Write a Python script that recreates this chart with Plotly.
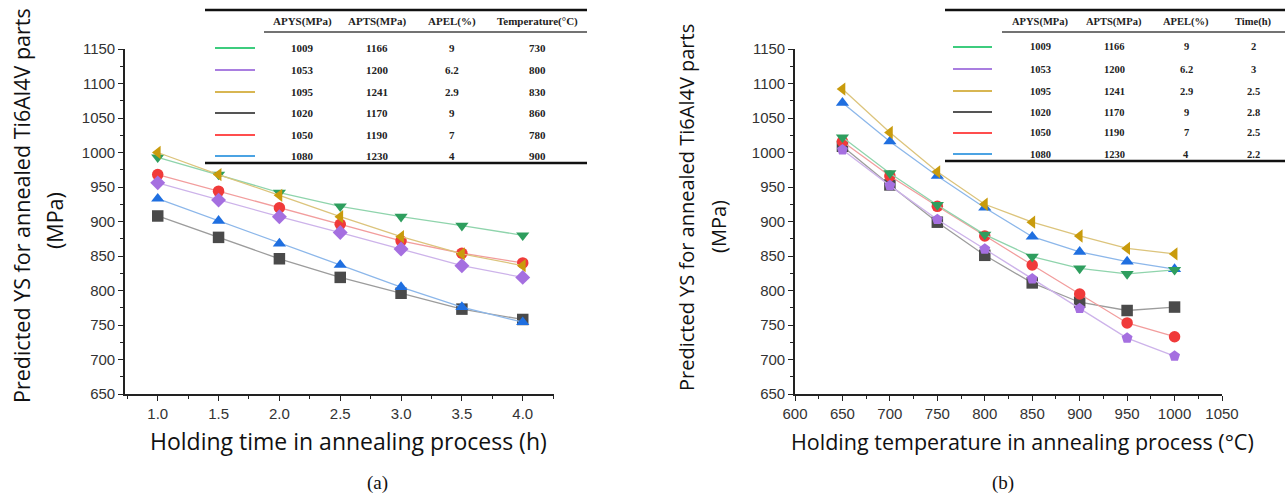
import plotly.graph_objects as go

W, H = 1285, 496

# ---------------- data ----------------
hours = [1.0, 1.5, 2.0, 2.5, 3.0, 3.5, 4.0]
temps = [650, 700, 750, 800, 850, 900, 950, 1000]

# (a) yield strength vs holding time
ys_time_green = [993, 968, 942, 922, 907, 894, 880]
ys_time_purple = [956, 931, 907, 884, 860, 836, 819]
ys_time_gold = [1000, 968, 938, 907, 878, 853, 836]
ys_time_gray = [908, 877, 846, 819, 796, 773, 758]
ys_time_red = [968, 944, 920, 896, 872, 854, 840]
ys_time_blue = [933, 901, 868, 837, 805, 776, 754]

# (b) yield strength vs holding temperature
ys_temp_green = [1022, 970, 924, 881, 849, 832, 824, 830]
ys_temp_purple = [1004, 952, 903, 860, 817, 774, 731, 705]
ys_temp_gold = [1092, 1029, 972, 925, 899, 879, 861, 853]
ys_temp_gray = [1009, 953, 899, 851, 811, 783, 771, 776]
ys_temp_red = [1016, 966, 922, 879, 837, 795, 753, 733]
ys_temp_blue = [1072, 1016, 966, 920, 878, 856, 842, 831]

# table contents
col_apys = ["1009", "1053", "1095", "1020", "1050", "1080"]
col_apts = ["1166", "1200", "1241", "1170", "1190", "1230"]
col_apel = ["9", "6.2", "2.9", "9", "7", "4"]
col_temp = ["730", "800", "830", "860", "780", "900"]
col_time = ["2", "3", "2.5", "2.8", "2.5", "2.2"]

# ---------------- styles ----------------
series_style = {
    "green":  dict(marker="#2e9e5e", line="#8fd4ac", sym="triangle-down", key="#3dcc7e"),
    "purple": dict(marker="#a56fe0", line="#cdb3ea", sym="diamond", key="#a97ee0"),
    "gold":   dict(marker="#c99b0c", line="#dcc47c", sym="triangle-left", key="#d8b652"),
    "gray":   dict(marker="#4a4a4a", line="#9c9c9c", sym="square", key="#555555"),
    "red":    dict(marker="#f03a3a", line="#f29d9d", sym="circle", key="#ff4d4d"),
    "blue":   dict(marker="#1f6fe0", line="#8cb7ea", sym="triangle-up", key="#4ba3e3"),
}
table_order = ["green", "purple", "gold", "gray", "red", "blue"]
draw_order = ["gray", "red", "purple", "blue", "green", "gold"]

time_series = {
    "green": ys_time_green, "purple": ys_time_purple, "gold": ys_time_gold,
    "gray": ys_time_gray, "red": ys_time_red, "blue": ys_time_blue,
}
temp_series = {
    "green": ys_temp_green, "purple": ys_temp_purple, "gold": ys_temp_gold,
    "gray": ys_temp_gray, "red": ys_temp_red, "blue": ys_temp_blue,
}


def px(x):
    return x / W


def py(y):
    return 1 - y / H


fig = go.Figure()

for name in draw_order:
    st = series_style[name]
    fig.add_trace(go.Scatter(
        x=hours, y=time_series[name], mode="lines+markers",
        line=dict(color=st["line"], width=1.3),
        marker=dict(symbol=st["sym"], size=11.5, color=st["marker"]),
        xaxis="x", yaxis="y", showlegend=False, name=name,
    ))
    sym_b = "pentagon" if name == "purple" else st["sym"]
    fig.add_trace(go.Scatter(
        x=temps, y=temp_series[name], mode="lines+markers",
        line=dict(color=st["line"], width=1.3),
        marker=dict(symbol=sym_b, size=11.5, color=st["marker"]),
        xaxis="x2", yaxis="y2", showlegend=False, name=name,
    ))

tick_font = dict(family="Liberation Sans, Arial", size=15, color="#333")
axis_common = dict(
    showline=True, linecolor="#222", linewidth=1.6, showgrid=False, zeroline=False,
    ticks="outside", ticklen=5, tickwidth=1.2, tickcolor="#222", tickfont=tick_font,
    automargin=False,
)

fig.update_layout(
    width=W, height=H, margin=dict(l=0, r=0, t=0, b=0, pad=0, autoexpand=False),
    paper_bgcolor="white", plot_bgcolor="white",
    xaxis=dict(domain=[px(125), px(554)], range=[0.731, 4.257], anchor="y",
               tick0=1.0, dtick=0.5, tickformat=".1f",
               minor=dict(ticks="outside", ticklen=3, dtick=0.25, tick0=1.0, tickcolor="#222"),
               **axis_common),
    yaxis=dict(domain=[py(394), py(49)], range=[650, 1150], anchor="x",
               tick0=650, dtick=50,
               minor=dict(ticks="outside", ticklen=3, dtick=25, tickcolor="#222"),
               **axis_common),
    xaxis2=dict(domain=[px(795), px(1222)], range=[600, 1050], anchor="y2",
                tick0=600, dtick=50,
                minor=dict(ticks="outside", ticklen=3, dtick=25, tickcolor="#222"),
                **axis_common),
    yaxis2=dict(domain=[py(394), py(49)], range=[650, 1150], anchor="x2",
                tick0=650, dtick=50,
                minor=dict(ticks="outside", ticklen=3, dtick=25, tickcolor="#222"),
                **axis_common),
)

shapes = []
annotations = []


def text(x, y, s, size, family="Open Sans", angle=0, weight="normal", color="#111"):
    annotations.append(dict(
        x=px(x), y=py(y), xref="paper", yref="paper", text=s, showarrow=False,
        xanchor="center", yanchor="middle", textangle=angle,
        font=dict(family=family, size=size, color=color, weight=weight),
    ))


# axis titles
text(22, 206, "Predicted YS for annealed Ti6Al4V parts", 21.5, angle=-90)
text(54, 221, "(MPa)", 21.5, angle=-90)
text(686, 208, "Predicted YS for annealed Ti6Al4V parts", 20, angle=-90)
text(718, 227, "(MPa)", 20, angle=-90)
text(348, 441, "Holding time in annealing process (h)", 23)
text(1023, 441, "Holding temperature in annealing process (°C)", 21.5)
text(377, 483, "(a)", 19, family="Liberation Serif")
text(1003, 483, "(b)", 19, family="Liberation Serif")


def rule(x0, x1, y, width, color="#111"):
    shapes.append(dict(type="line", xref="paper", yref="paper",
                       x0=px(x0), x1=px(x1), y0=py(y), y1=py(y),
                       line=dict(color=color, width=width)))


def table(x_left, x_right, rule_top, header_y, under_x0, under_y, rows_y, rule_bottom,
          key_x0, key_x1, col_x, headers, columns, size):
    rule(x_left, x_right, rule_top, 2.5)
    rule(under_x0, x_right, under_y, 1.4, "#444")
    rule(x_left, x_right, rule_bottom, 2.5)
    for cx, h in zip(col_x, headers):
        text(cx, header_y, h, size, family="Liberation Serif", weight="bold", color="#222")
    for i, name in enumerate(table_order):
        ry = rows_y[i]
        shapes.append(dict(type="line", xref="paper", yref="paper",
                           x0=px(key_x0), x1=px(key_x1), y0=py(ry), y1=py(ry),
                           line=dict(color=series_style[name]["key"], width=2)))
        for cx, col in zip(col_x, columns):
            text(cx, ry, col[i], size, family="Liberation Serif", weight="bold", color="#222")


table(205, 587, 10, 22, 264, 32, [48, 70, 92, 113, 135, 156], 163,
      215, 255, [302, 377, 452, 537],
      ["APYS(MPa)", "APTS(MPa)", "APEL(%)", "Temperature(°C)"],
      [col_apys, col_apts, col_apel, col_temp], 11)

table(945, 1285, 10, 22, 1002, 32, [47, 69, 91, 112, 133, 154], 161,
      953, 992, [1040, 1114, 1186, 1253],
      ["APYS(MPa)", "APTS(MPa)", "APEL(%)", "Time(h)"],
      [col_apys, col_apts, col_apel, col_time], 10.5)

fig.update_layout(shapes=shapes, annotations=annotations)

fig.write_html(
    "out.html",
    post_script="document.body.style.margin='0';document.body.style.overflow='hidden';",
)
